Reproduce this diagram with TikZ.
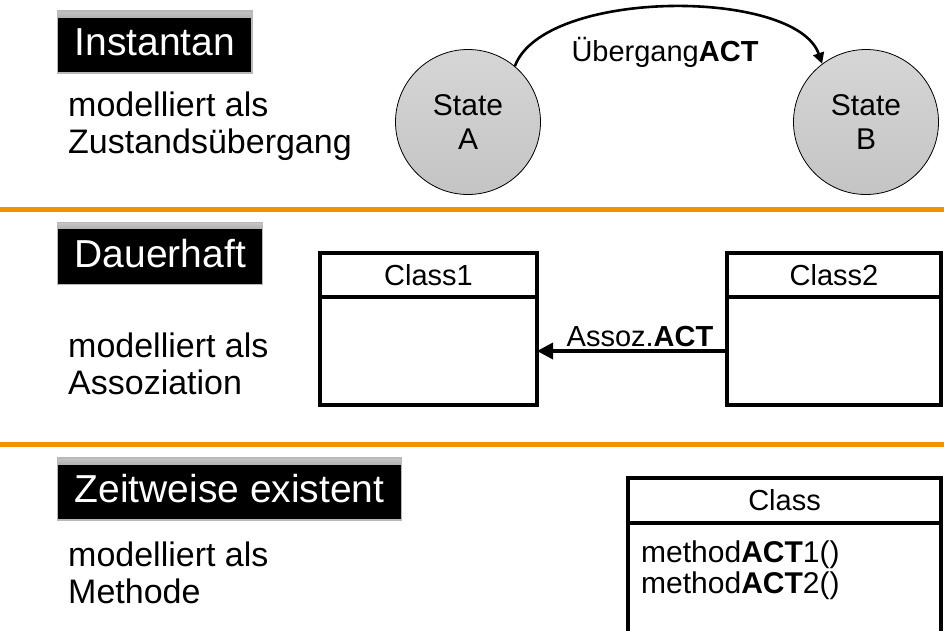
\documentclass[tikz,border=0pt]{standalone}
\usepackage{fontspec}
\setmainfont{Liberation Sans}
\usetikzlibrary{arrows.meta}

\definecolor{barorange}{RGB}{243,146,0}
\definecolor{stategrey}{RGB}{214,214,214}
\definecolor{stategreydark}{RGB}{196,196,196}

\tikzset{
  titlebox/.style={anchor=west, fill=black, draw=gray!55, line width=1.2pt,
    text=white, inner xsep=17pt, minimum height=62pt,
    font=\fontsize{39}{39}\selectfont,
    path picture={\shade[top color=gray!45, bottom color=black]
      (path picture bounding box.north west) rectangle
      ([yshift=-6pt]path picture bounding box.north east);}},
  bodytext/.style={anchor=west, align=left, inner sep=0pt,
    font=\fontsize{34}{37}\selectfont},
  statenode/.style={circle, draw=black, line width=0.8pt, minimum size=145pt,
    top color=stategrey, bottom color=stategreydark, align=center,
    inner sep=0pt, font=\fontsize{30}{34}\selectfont},
  umlpart/.style={draw=black, line width=3.5pt, outer sep=0pt, inner sep=0pt},
  diagtext/.style={inner sep=0pt, font=\fontsize{29}{31}\selectfont},
  sepline/.style={draw=barorange, line width=5pt},
  transarrow/.style={draw=black, line width=2.6pt,
    -{Triangle[length=11pt, width=11pt]}},
  assocarrow/.style={draw=black, line width=3.5pt,
    -{Triangle[length=16pt, width=16pt]}},
}

\begin{document}
\begin{tikzpicture}[x=1pt, y=-1pt]
  \useasboundingbox (0,0) rectangle (944,630);
  \clip (0,0) rectangle (944,630);

  % section separators
  \draw[sepline] (0,209) -- (944,209);
  \draw[sepline] (0,444) -- (944,444);

  % --- instantaneous: state transition ---
  \node[titlebox] (t1) at (57,42) {Instantan};
  \node[bodytext] (d1) at (68,126) {modelliert als\\Zustandsübergang};

  \node[statenode] (sa) at (468,122) {State\\A};
  \node[statenode] (sb) at (866,122) {State\\B};
  \draw[transarrow] (sa.50) .. controls (544,-12) and (796,-12) .. (sb.127);
  \node[diagtext, anchor=base] (lt) at (665,61) {Übergang\textbf{ACT}};

  % --- permanent: association ---
  \node[titlebox] (t2) at (57,253.5) {Dauerhaft};
  \node[bodytext] (d2) at (68,364) {modelliert als\\Assoziation};

  \node[umlpart, minimum width=217pt, minimum height=44pt] (c1h) at (428.5,275) {};
  \node[umlpart, minimum width=217pt, minimum height=108pt, anchor=north] (c1) at (c1h.south) {};
  \node[diagtext] (c1n) at (c1h.center) {Class1};

  \node[umlpart, minimum width=214pt, minimum height=44pt] (c2h) at (834,275) {};
  \node[umlpart, minimum width=214pt, minimum height=108pt, anchor=north] (c2) at (c2h.south) {};
  \node[diagtext] (c2n) at (c2h.center) {Class2};

  \draw[assocarrow] (c2.west) -- (c1.east);
  \node[diagtext, anchor=base] (la) at (640,346) {Assoz.\textbf{ACT}};

  % --- temporary: method ---
  \node[titlebox] (t3) at (57,489) {Zeitweise existent};
  \node[bodytext] (d3) at (68,573) {modelliert als\\Methode};

  \node[umlpart, minimum width=313pt, minimum height=45pt] (ch) at (784.5,500.5) {};
  \node[umlpart, minimum width=313pt, minimum height=140pt, anchor=north] (cb) at (ch.south) {};
  \node[diagtext] (cn) at (ch.center) {Class};
  \node[diagtext, anchor=west, align=left, font=\fontsize{30}{31}\selectfont] (cm) at (641,570)
    {method\textbf{ACT}1()\\method\textbf{ACT}2()};
\end{tikzpicture}
\end{document}
